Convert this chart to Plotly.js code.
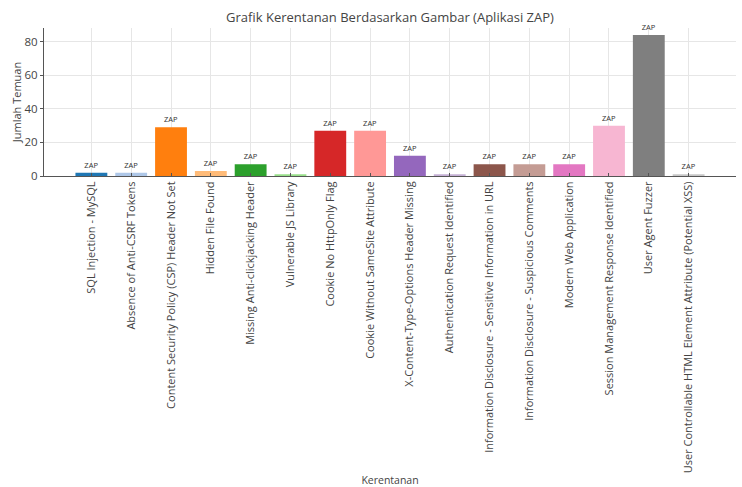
<!DOCTYPE html>
<html>
<head>
<meta charset="utf-8">
<script src="https://cdn.plot.ly/plotly-3.0.1.min.js"></script>
<style>
html,body{margin:0;padding:0;background:#fff;}
#chart{width:742px;height:487px;}
</style>
</head>
<body>
<div id="chart"></div>
<script>
const categories = [
  "SQL Injection - MySQL",
  "Absence of Anti-CSRF Tokens",
  "Content Security Policy (CSP) Header Not Set",
  "Hidden File Found",
  "Missing Anti-clickjacking Header",
  "Vulnerable JS Library",
  "Cookie No HttpOnly Flag",
  "Cookie Without SameSite Attribute",
  "X-Content-Type-Options Header Missing",
  "Authentication Request Identified",
  "Information Disclosure - Sensitive Information in URL",
  "Information Disclosure - Suspicious Comments",
  "Modern Web Application",
  "Session Management Response Identified",
  "User Agent Fuzzer",
  "User Controllable HTML Element Attribute (Potential XSS)"
];
const counts = [2, 2, 29, 3, 7, 1, 27, 27, 12, 1, 7, 7, 7, 30, 84, 1];
const barLabels = categories.map(() => "ZAP");
const barColors = ["#1f77b4","#aec7e8","#ff7f0e","#ffbb78","#2ca02c","#98df8a","#d62728","#ff9896",
                   "#9467bd","#c5b0d5","#8c564b","#c49c94","#e377c2","#f7b6d2","#7f7f7f","#c7c7c7"];

const FONT = "Open Sans, DejaVu Sans, sans-serif";

const trace = {
  type: "bar",
  x: categories,
  y: counts,
  width: 0.8,
  marker: {color: barColors, line: {width: 0}},
  text: barLabels,
  textposition: "outside",
  textfont: {family: FONT, size: 7.5, color: "#333"},
  cliponaxis: false,
  hoverinfo: "x+y"
};

const layout = {
  width: 742,
  height: 487,
  margin: {l: 44, r: 6, t: 28, b: 311},
  paper_bgcolor: "#fff",
  plot_bgcolor: "#fff",
  showlegend: false,
  font: {family: FONT, color: "#444"},
  title: {
    text: "Grafik Kerentanan Berdasarkan Gambar (Aplikasi ZAP)",
    font: {family: FONT, size: 13, color: "#444"},
    x: 0.5, xref: "paper", xanchor: "center",
    y: 0.965, yref: "container", yanchor: "middle"
  },
  xaxis: {
    type: "category",
    range: [-1.19, 16.19],
    tickangle: -90,
    tickfont: {family: FONT, size: 11, color: "#444"},
    showgrid: true,
    gridcolor: "#e6e6e6",
    gridwidth: 1,
    showline: true,
    linecolor: "#555",
    linewidth: 1,
    ticks: "inside",
    ticklen: 3,
    tickcolor: "#555",
    automargin: false,
    title: {text: "Kerentanan", font: {family: FONT, size: 10.5, color: "#444"}, standoff: 4}
  },
  yaxis: {
    range: [0, 88.2],
    tickvals: [0, 20, 40, 60, 80],
    tickfont: {family: FONT, size: 11.5, color: "#444"},
    showgrid: true,
    gridcolor: "#e6e6e6",
    gridwidth: 1,
    zeroline: false,
    showline: true,
    linecolor: "#555",
    linewidth: 1,
    ticks: "outside",
    ticklen: 3,
    tickcolor: "#555",
    automargin: false,
    title: {text: "Jumlah Temuan", font: {family: FONT, size: 11, color: "#444"}, standoff: 0}
  }
};

Plotly.newPlot("chart", [trace], layout, {displayModeBar: false, staticPlot: true});
</script>
</body>
</html>
